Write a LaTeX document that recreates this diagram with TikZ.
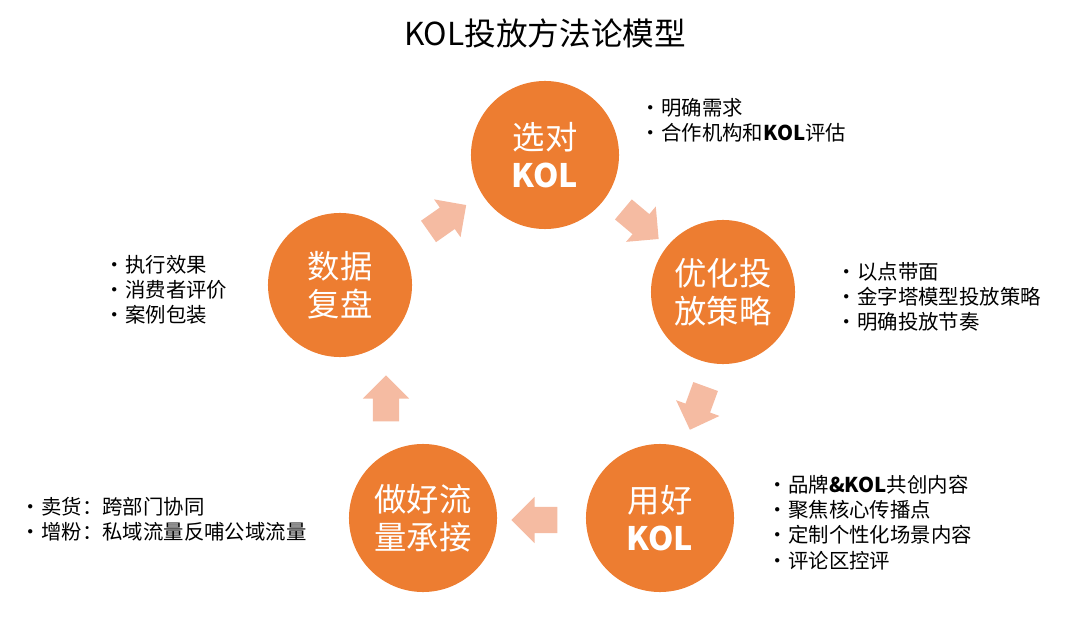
\documentclass[tikz,border=0pt]{standalone}
\usepackage{fontspec}
\setmainfont{Noto Sans CJK SC}
\usetikzlibrary{shapes.arrows}
\definecolor{stepfill}{HTML}{ED7D31}
\definecolor{arrowfill}{HTML}{F5BBA2}
\tikzset{
  stage/.style={circle, fill=stepfill, minimum size=3.7cm, text=white, font=\fontsize{23}{27}\selectfont, align=center, inner sep=0pt},
  flow/.style={single arrow, fill=arrowfill, minimum height=1.15cm, inner xsep=0.1cm, inner ysep=0.32cm, single arrow head extend=0.25cm, single arrow head indent=0cm},
  note/.style={anchor=north west, align=left, font=\fontsize{14.5}{18}\selectfont}
}
\begin{document}
\begin{tikzpicture}[x=0.025cm, y=-0.025cm]
    \useasboundingbox (0,0) rectangle (1080,630);
    % title
    \node (title) at (545,33) {\fontsize{22.5}{27}\selectfont KOL投放方法论模型};

    % draw circles
    \node[stage] (pick) at (545,155) {选对\\\textbf{KOL}};
    \node[stage, minimum size=3.6cm] (plan) at (723,292) {优化投\\放策略};
    \node[stage] (use) at (660,518) {用好\\\textbf{KOL}};
    \node[stage] (sell) at (423,518) {做好流\\量承接};
    \node[stage, minimum size=3.6cm] (data) at (340,285) {数据\\复盘};

    % draw arrows
    \node[flow, rotate=-40] (a1) at (636,220) {};
    \node[flow, rotate=-110] (a2) at (700,402) {};
    \node[flow, rotate=180] (a3) at (541,520) {};
    \node[flow, rotate=90] (a4) at (386,405) {};
    \node[flow, rotate=35] (a5) at (442,222) {};

    % draw notes
    \node[note] (npick) at (636,93) {•明确需求\\•合作机构和\textbf{KOL}评估};
    \node[note] (nplan) at (832,257) {•以点带面\\•金字塔模型投放策略\\•明确投放节奏};
    \node[note] (nuse) at (763,470) {•品牌\textbf{\&KOL}共创内容\\•聚焦核心传播点\\•定制个性化场景内容\\•评论区控评};
    \node[note] (nsell) at (16,492) {•卖货：跨部门协同\\•增粉：私域流量反哺公域流量};
    \node[note] (ndata) at (100,250) {•执行效果\\•消费者评价\\•案例包装};
\end{tikzpicture}
\end{document}
